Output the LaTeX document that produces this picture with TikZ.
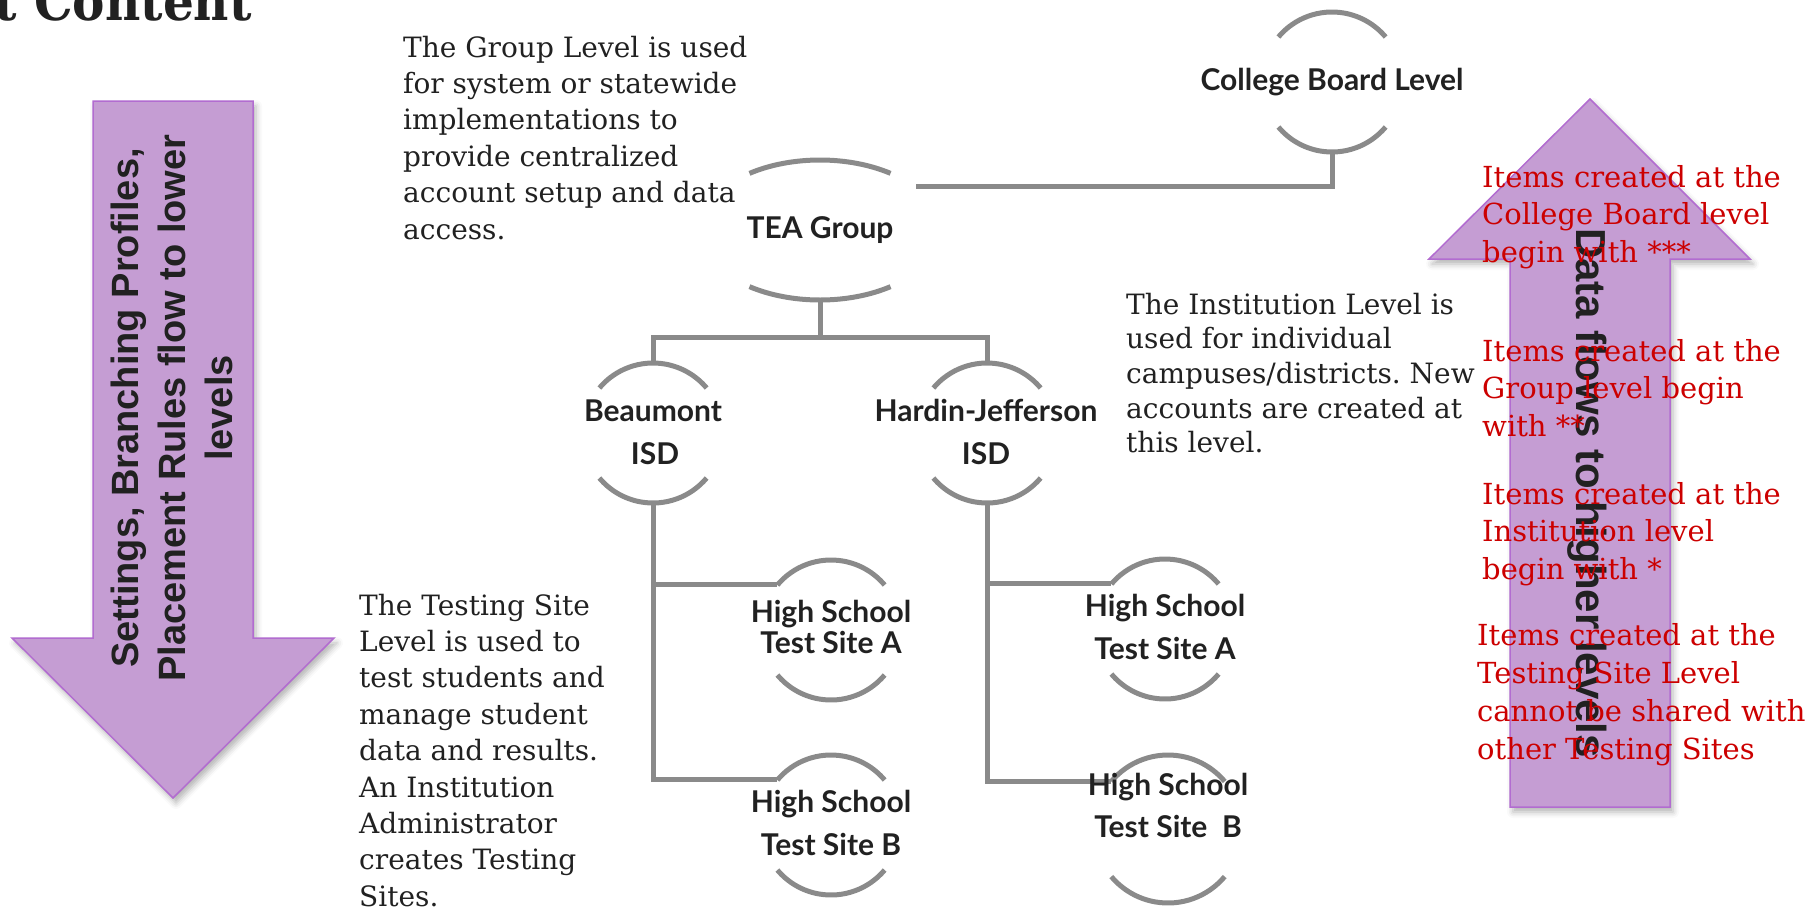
\documentclass[tikz,border=0pt]{standalone}
\usepackage{fontspec}
\usetikzlibrary{shapes.geometric,shadows.blur,calc}
\newfontfamily\slab{DejaVu Serif}
\newfontfamily\slabtitle{DejaVu Serif Condensed}
\newfontfamily\labfont{Lato}
\newfontfamily\arialfont{Liberation Sans}
\definecolor{lnGray}{RGB}{138,138,138}
\definecolor{txtDark}{RGB}{33,33,33}
\definecolor{redTxt}{RGB}{204,0,0}
\definecolor{arrFill}{RGB}{197,157,211}
\definecolor{arrDraw}{RGB}{178,108,208}
\frenchspacing
\begin{document}
\begin{tikzpicture}[x=1pt,y=-1pt,
  conn/.style={draw=lnGray, line width=5pt},
  arcline/.style={draw=lnGray, line width=5pt},
  ring/.style={circle, minimum size=140pt, inner sep=0pt},
  lbl/.style={anchor=base, inner sep=0pt, text=txtDark, font=\labfont\bfseries\fontsize{30}{34}\selectfont},
  body/.style={anchor=base west, inner sep=0pt, text=txtDark, font=\slab\fontsize{28}{36.4}\selectfont},
  redbody/.style={anchor=base west, inner sep=0pt, text=redTxt, font=\slab\fontsize{29}{37.6}\selectfont},
  bigarrow/.style={fill=arrFill, draw=arrDraw, line width=1.5pt,
    blur shadow={shadow xshift=3pt, shadow yshift=-5pt, shadow blur radius=6pt, shadow opacity=30}},
  arrtext/.style={inner sep=0pt, text=txtDark, align=center},
]
\useasboundingbox (0,0) rectangle (1819,916);

% title (cut at the top edge)
\node[anchor=base east, inner sep=0pt, text=txtDark, font=\slabtitle\bfseries\fontsize{54}{60}\selectfont] (title) at (252,20) {t Content};

% big arrows
\path[bigarrow] (93,101) -- (253,101) -- (253,638) -- (334,638) -- (173,798) -- (12,638) -- (93,638) -- cycle;
\path[bigarrow] (1590,99) -- (1750,259) -- (1670,259) -- (1670,807) -- (1510,807) -- (1510,259) -- (1429,259) -- cycle;

% invisible ring nodes
\node[ring] (cbC) at (1332,82) {};
\node[ellipse, minimum width=240pt, minimum height=140pt, inner sep=0pt] (teaC) at (820,230) {};
\node[ring] (beaC) at (653,433) {};
\node[ring] (heaC) at (987,433) {};
\node[ring] (bhsaC) at (831,630) {};
\node[ring] (bhsbC) at (831,825) {};
\node[ring] (hhsaC) at (1165,629) {};
\node[ring, minimum size=148pt] (hhsbC) at (1168,829) {};
\coordinate (teaR) at (916,186);
\coordinate (split) at (820,337);

% ring arcs
\foreach \c in {cbC,beaC,heaC,bhsaC,bhsbC,hhsaC}{
  \draw[arcline] ($(\c)+(220:70)$) arc[start angle=220, end angle=320, radius=70];
  \draw[arcline] ($(\c)+(40:70)$) arc[start angle=40, end angle=140, radius=70];
}
\draw[arcline] ($(hhsbC)+(220:74)$) arc[start angle=220, end angle=320, radius=74];
\draw[arcline] ($(hhsbC)+(40:74)$) arc[start angle=40, end angle=140, radius=74];
\draw[arcline] ($(teaC)+(234:120 and 70)$) arc[start angle=234, end angle=306, x radius=120, y radius=70];
\draw[arcline] ($(teaC)+(54:120 and 70)$) arc[start angle=54, end angle=126, x radius=120, y radius=70];

% connectors
\draw[conn] (teaR) -| (cbC.south);
\draw[conn] (teaC.south) -- (split);
\draw[conn] (beaC.north) -- (beaC.north |- split) -- (heaC.north |- split) -- (heaC.north);
\draw[conn] (beaC.south) |- (bhsbC.140);
\draw[conn] (beaC.south |- bhsaC.140) -- (bhsaC.140);
\draw[conn] (heaC.south) |- (hhsbC.140);
\draw[conn] (heaC.south |- hhsaC.140) -- (hhsaC.140);

% labels
\node[lbl] (cbL) at (1332,90) {College Board Level};
\node[lbl] (teaL) at (820,238) {TEA Group};
\node[lbl] (beaL1) at (653,421) {Beaumont};
\node[lbl] (beaL2) at (655,464) {ISD};
\node[lbl] (heaL1) at (986,421) {Hardin-Jefferson};
\node[lbl] (heaL2) at (986,464) {ISD};
\node[lbl] (bhsaL1) at (831,622) {High School};
\node[lbl] (bhsaL2) at (831,653) {Test Site A};
\node[lbl] (bhsbL1) at (831,812) {High School};
\node[lbl] (bhsbL2) at (831,855) {Test Site B};
\node[lbl] (hhsaL1) at (1165,616) {High School};
\node[lbl] (hhsaL2) at (1165,659) {Test Site A};
\node[lbl] (hhsbL1) at (1168,795) {High School};
\node[lbl] (hhsbL2) at (1168,837) {Test Site~~B};

% descriptive texts
\node[body] (groupT) at (403,57) {\parbox[t]{420pt}{\raggedright The Group Level is used\\ for system or statewide\\ implementations to\\ provide centralized\\ account setup and data\\ access.}};
\node[body, font=\slab\fontsize{28}{34.7}\selectfont] (instT) at (1126,314) {\parbox[t]{420pt}{\raggedright The Institution Level is\\ used for individual\\ campuses/districts. New\\ accounts are created at\\ this level.}};
\node[body] (testT) at (359,615) {\parbox[t]{300pt}{\raggedright The Testing Site\\ Level is used to\\ test students and\\ manage student\\ data and results.\\ An Institution\\ Administrator\\ creates Testing\\ Sites.}};

% arrow texts
\node[arrtext, rotate=90, font=\arialfont\bfseries\fontsize{38}{47}\selectfont] (downT) at (172,408) {Settings, Branching Profiles,\\ Placement Rules flow to lower\\ levels};
\node[arrtext, rotate=-90, font=\arialfont\bfseries\fontsize{42}{48}\selectfont] (upT) at (1587,493) {Data flows to higher levels};

% red notes
\node[redbody] (red1) at (1482,187) {\parbox[t]{360pt}{\raggedright Items created at the\\ College Board level\\ begin with ***}};
\node[redbody] (red2) at (1482,361) {\parbox[t]{360pt}{\raggedright Items created at the\\ Group level begin\\ with **}};
\node[redbody] (red3) at (1482,504) {\parbox[t]{360pt}{\raggedright Items created at the\\ Institution level\\ begin with *}};
\node[redbody, font=\slab\fontsize{29}{38}\selectfont] (red4) at (1477,645) {\parbox[t]{360pt}{\raggedright Items created at the\\ Testing Site Level\\ cannot be shared with\\ other Testing Sites}};
\end{tikzpicture}
\end{document}
